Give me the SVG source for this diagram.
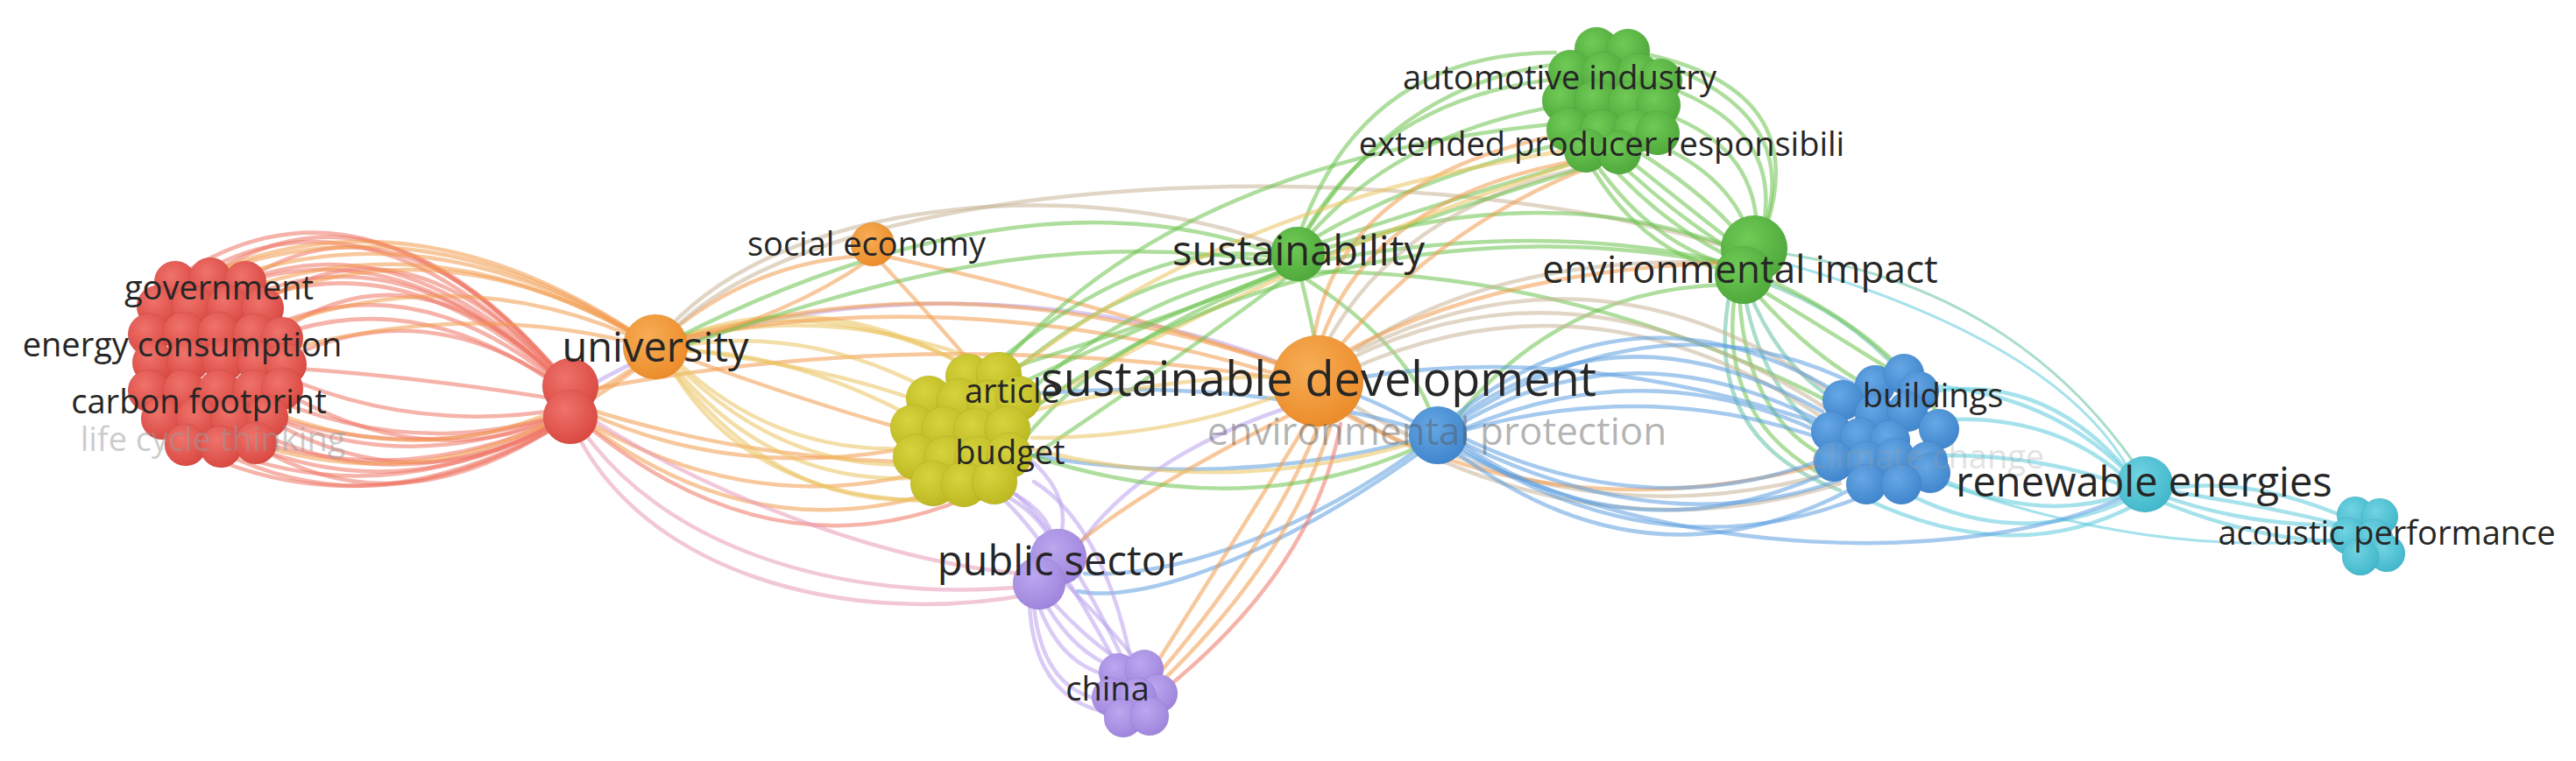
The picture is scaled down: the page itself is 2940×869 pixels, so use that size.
<svg xmlns="http://www.w3.org/2000/svg" width="2940" height="869" viewBox="0 0 2940 869">
<defs>
<radialGradient id="gR" cx="40%" cy="35%" r="70%"><stop offset="0" stop-color="#ef736b"/><stop offset="1" stop-color="#d8463f"/></radialGradient>
<radialGradient id="gO" cx="40%" cy="35%" r="70%"><stop offset="0" stop-color="#f7ad55"/><stop offset="1" stop-color="#eb8a28"/></radialGradient>
<radialGradient id="gY" cx="40%" cy="35%" r="70%"><stop offset="0" stop-color="#d6d33e"/><stop offset="1" stop-color="#bbb720"/></radialGradient>
<radialGradient id="gG" cx="40%" cy="35%" r="70%"><stop offset="0" stop-color="#70ca55"/><stop offset="1" stop-color="#4da73a"/></radialGradient>
<radialGradient id="gB" cx="40%" cy="35%" r="70%"><stop offset="0" stop-color="#66a7e5"/><stop offset="1" stop-color="#3e84cb"/></radialGradient>
<radialGradient id="gP" cx="40%" cy="35%" r="70%"><stop offset="0" stop-color="#bca7ef"/><stop offset="1" stop-color="#9d83dc"/></radialGradient>
<radialGradient id="gC" cx="40%" cy="35%" r="70%"><stop offset="0" stop-color="#70d3e2"/><stop offset="1" stop-color="#3fb6ca"/></radialGradient>
</defs>
<style>
.e path{fill:none;stroke-width:4.5;stroke-linecap:round;stroke-opacity:.55}
.r{stroke:#ee7565}
.o{stroke:#f39a4c}
.y{stroke:#ebc25e}
.g{stroke:#6cc24c}
.b{stroke:#5d9fe0}
.p{stroke:#b9a0ec}
.c{stroke:#5ccbdc}
.t{stroke:#c9b597}
.k{stroke:#e89ab8}
.tq{stroke:#62c0a0}
.n circle{stroke:#000;stroke-opacity:.06;stroke-width:1}
.nr circle{fill:url(#gR)}
.no circle{fill:url(#gO)}
.ny circle{fill:url(#gY)}
.ng circle{fill:url(#gG)}
.nb circle{fill:url(#gB)}
.np circle{fill:url(#gP)}
.nc circle{fill:url(#gC)}
text{font-family:"Open Sans","Noto Sans","Liberation Sans",sans-serif;fill:#262626;text-anchor:middle}
.s38{font-size:38px}
.s44{font-size:44px}
.s47{font-size:47px}
.s54{font-size:54px}
.faint{fill:#9a9a9a;fill-opacity:.5}
.grey{fill:#555;fill-opacity:.45}
</style>
<rect width="2940" height="869" fill="#fff"/>
<g id="connectors" class="e">
<!-- red cluster to red node -->
<path class="r" d="M200 318 Q420 170 650 440"/>
<path class="r" d="M240 314 Q440 185 650 440"/>
<path class="r" d="M280 320 Q460 205 650 442"/>
<path class="r" d="M300 345 Q470 235 650 444"/>
<path class="r" d="M320 378 Q480 270 650 446"/>
<path class="r" d="M325 410 Q490 330 650 448"/>
<path class="r" d="M180 345 Q400 170 650 440"/>
<path class="r" d="M170 378 Q410 210 650 444"/>
<path class="r" d="M215 380 Q430 240 650 446"/>
<path class="r" d="M255 412 Q450 300 650 450"/>
<path class="r" d="M260 350 Q450 250 650 444"/>
<path class="r" d="M220 350 Q430 220 650 442"/>
<path class="r" d="M290 382 Q470 290 650 448"/>
<path class="r" d="M320 445 Q490 545 650 472"/>
<path class="r" d="M305 478 Q480 580 650 474"/>
<path class="r" d="M290 508 Q460 610 650 476"/>
<path class="r" d="M250 515 Q440 610 650 478"/>
<path class="r" d="M210 508 Q420 615 650 478"/>
<path class="r" d="M185 478 Q400 610 650 476"/>
<path class="r" d="M170 445 Q400 590 650 474"/>
<path class="r" d="M175 412 Q410 555 650 470"/>
<path class="r" d="M250 446 Q440 560 650 470"/>
<path class="r" d="M290 414 Q460 500 650 466"/>
<path class="r" d="M326 420 Q480 430 650 458"/>
<path class="r" d="M265 478 Q450 585 650 474"/>
<path class="r" d="M225 478 Q430 600 650 476"/>
<path class="r" d="M290 446 Q470 530 650 470"/>
<!-- red cluster to university -->
<path class="o" d="M220 320 Q480 215 748 396"/>
<path class="o" d="M260 318 Q500 235 748 396"/>
<path class="o" d="M300 340 Q520 255 748 396"/>
<path class="o" d="M320 370 Q540 295 748 396"/>
<path class="o" d="M200 330 Q460 195 748 396"/>
<path class="o" d="M326 400 Q540 340 748 398"/>
<path class="o" d="M280 330 Q510 250 748 396"/>
<path class="o" d="M310 470 Q540 560 748 402"/>
<path class="o" d="M270 500 Q520 590 748 404"/>
<!-- red node rightwards -->
<path class="o" d="M665 478 Q850 590 1050 540"/>
<path class="o" d="M665 480 Q860 630 1075 560"/>
<path class="o" d="M668 470 Q840 550 1045 510"/>
<path class="o" d="M668 466 Q900 540 1140 525"/>
<path class="r" d="M665 482 Q880 660 1100 570"/>
<path class="k" d="M660 484 C750 620 950 690 1170 670"/>
<path class="k" d="M655 488 C730 650 960 720 1180 678"/>
<path class="k" d="M668 474 C800 560 1000 640 1165 655"/>
<path class="o" d="M668 446 Q1050 370 1460 432"/>
<path class="p" d="M668 444 C850 330 1200 310 1470 418"/>
<!-- university to yellow -->
<path class="y" d="M765 390 Q930 320 1105 420"/>
<path class="y" d="M765 392 Q945 340 1140 420"/>
<path class="y" d="M768 396 Q920 370 1060 445"/>
<path class="y" d="M768 400 Q900 400 1045 478"/>
<path class="y" d="M765 405 Q880 520 1040 512"/>
<path class="y" d="M762 410 Q880 560 1058 545"/>
<path class="y" d="M760 412 Q900 600 1090 565"/>
<path class="y" d="M770 398 Q960 420 1080 470"/>
<path class="o" d="M770 404 Q950 470 1070 500"/>
<path class="y" d="M760 410 Q860 590 1120 570"/>
<path class="y" d="M766 388 Q940 330 1120 425"/>
<path class="y" d="M764 408 Q890 540 1050 530"/>
<path class="o" d="M768 390 Q1100 290 1470 420"/>
<path class="o" d="M766 388 Q1100 320 1460 428"/>
<!-- social economy -->
<path class="o" d="M985 292 Q860 300 762 382"/>
<path class="o" d="M1008 292 Q1230 340 1470 418"/>
<path class="o" d="M1004 298 Q1080 380 1130 440"/>
<path class="o" d="M990 298 Q900 360 770 394"/>
<path class="t" d="M760 378 C900 220 1250 200 1462 282"/>
<path class="t" d="M765 380 C950 190 1600 170 1965 280"/>
<path class="g" d="M1462 292 C1250 210 1000 270 768 388"/>
<path class="g" d="M1462 300 C1200 260 1000 320 770 398"/>
<!-- sustainability -->
<path class="g" d="M1465 300 Q1300 300 1150 430"/>
<path class="g" d="M1466 304 Q1280 340 1160 462"/>
<path class="g" d="M1468 296 Q1320 260 1130 420"/>
<path class="g" d="M1470 310 Q1260 390 1170 500"/>
<path class="g" d="M1475 312 Q1330 420 1180 520"/>
<path class="g" d="M1470 306 Q1350 360 1090 440"/>
<path class="g" d="M1495 290 Q1750 200 1975 282"/>
<path class="g" d="M1495 300 Q1760 250 1970 300"/>
<path class="g" d="M1485 318 Q1495 360 1500 385"/>
<path class="g" d="M1490 318 Q1600 390 1632 468"/>
<path class="g" d="M1495 310 Q1800 310 2090 460"/>
<!-- green cluster to sustainability -->
<path class="g" d="M1775 60 Q1560 60 1485 262"/>
<path class="g" d="M1780 90 Q1580 110 1490 265"/>
<path class="g" d="M1785 120 Q1600 150 1495 268"/>
<path class="g" d="M1800 160 Q1620 200 1500 272"/>
<path class="g" d="M1815 180 Q1650 230 1505 278"/>
<path class="g" d="M1790 72 Q1600 90 1492 264"/>
<!-- green cluster to env impact -->
<path class="g" d="M1830 180 Q1900 260 1988 300"/>
<path class="g" d="M1850 175 Q1930 240 1995 290"/>
<path class="g" d="M1880 160 Q1980 200 2000 280"/>
<path class="g" d="M1900 130 Q2010 170 2005 275"/>
<path class="g" d="M1905 100 Q2040 150 2010 270"/>
<path class="g" d="M1890 70 Q2060 130 2012 265"/>
<path class="g" d="M1810 170 Q1880 280 1982 305"/>
<path class="g" d="M1795 150 Q1860 290 1978 310"/>
<path class="g" d="M1870 60 Q2070 100 2015 262"/>
<path class="g" d="M1865 170 Q1960 230 1998 285"/>
<path class="g" d="M1840 178 Q1915 250 1992 295"/>
<!-- green cluster to SD/yellow -->
<path class="o" d="M1504 400 Q1560 220 1820 180"/>
<path class="t" d="M1512 396 Q1600 230 1832 186"/>
<path class="o" d="M1498 398 Q1520 200 1800 150"/>
<path class="y" d="M1150 430 Q1400 230 1800 170"/>
<path class="g" d="M1140 420 Q1350 180 1790 140"/>
<path class="g" d="M1160 440 Q1450 300 1830 185"/>
<path class="y" d="M1170 470 Q1450 300 1815 180"/>
<!-- env impact -->
<path class="tq" d="M1995 330 Q2030 420 2100 460"/>
<path class="g" d="M2000 330 Q2060 400 2130 440"/>
<path class="g" d="M2005 328 Q2090 380 2170 430"/>
<path class="tq" d="M1990 330 Q2010 450 2090 500"/>
<path class="g" d="M1985 332 Q1990 470 2080 520"/>
<path class="tq" d="M2012 322 Q2120 360 2190 450"/>
<path class="g" d="M1980 335 Q1960 480 2085 545"/>
<path class="g" d="M2020 320 Q2150 380 2210 470"/>
<path class="tq" d="M1975 330 Q1940 500 2100 560"/>
<path class="tq" d="M2038 290 Q2300 330 2440 535" style="stroke-width:3"/>
<path class="c" d="M2035 300 Q2350 390 2432 540" style="stroke-width:3"/>
<path class="g" d="M1970 325 Q1780 330 1660 480"/>
<path class="t" d="M1965 300 Q1700 290 1530 410"/>
<path class="g" d="M1960 300 C1700 250 1400 300 1175 470"/>
<!-- SD to blue cluster (tan) -->
<path class="t" d="M1540 410 Q1800 280 2090 470"/>
<path class="t" d="M1545 420 Q1820 300 2085 480"/>
<path class="t" d="M1550 400 Q1830 260 2100 455"/>
<path class="o" d="M1530 405 Q1700 310 1965 300"/>
<path class="o" d="M1525 400 Q1650 250 1830 185"/>
<path class="t" d="M1540 460 Q1800 620 2090 540"/>
<path class="t" d="M1535 470 Q1820 640 2100 552"/>
<path class="o" d="M1530 470 Q1780 610 2080 530"/>
<!-- blue node to blue cluster -->
<path class="b" d="M1660 480 Q1850 340 2080 470"/>
<path class="b" d="M1665 485 Q1860 370 2075 480"/>
<path class="b" d="M1670 490 Q1880 400 2080 495"/>
<path class="b" d="M1660 475 Q1870 310 2100 450"/>
<path class="b" d="M1665 480 Q1900 330 2120 440"/>
<path class="b" d="M1668 492 Q1890 430 2090 505"/>
<path class="b" d="M1665 505 Q1860 640 2085 540"/>
<path class="b" d="M1660 515 Q1880 680 2110 560"/>
<path class="b" d="M1665 510 Q1900 660 2130 565"/>
<path class="b" d="M1670 500 Q1880 600 2080 525"/>
<path class="b" d="M1668 505 Q1900 620 2100 548"/>
<path class="b" d="M2080 485 Q1800 390 1545 432"/>
<path class="b" d="M1641 497 Q1580 462 1540 448"/>
<path class="b" d="M1625 500 Q1400 560 1180 520"/>
<path class="b" d="M1625 508 C1500 600 1350 660 1238 655"/>
<path class="b" d="M1625 492 Q1420 430 1175 450"/>
<path class="b" d="M1630 510 C1450 640 1300 690 1230 675"/>
<!-- blue cluster to renewable / acoustic -->
<path class="c" d="M2190 450 Q2330 420 2430 540"/>
<path class="c" d="M2210 480 Q2340 470 2425 545"/>
<path class="c" d="M2220 520 Q2330 520 2420 553"/>
<path class="c" d="M2200 540 Q2320 600 2425 565"/>
<path class="c" d="M2170 560 Q2300 630 2430 570"/>
<path class="c" d="M2130 570 Q2300 650 2440 575"/>
<path class="c" d="M2200 440 Q2340 450 2428 540"/>
<path class="c" d="M2200 545 Q2450 640 2678 615" style="stroke-width:3"/>
<path class="c" d="M2462 560 Q2560 540 2680 592"/>
<path class="c" d="M2460 570 Q2580 620 2680 618"/>
<path class="c" d="M2470 560 Q2600 580 2690 604"/>
<path class="c" d="M2465 565 Q2560 600 2672 600"/>
<path class="b" d="M1660 512 C1900 640 2250 650 2430 565"/>
<!-- public sector & china -->
<path class="p" d="M1185 690 Q1210 760 1268 772"/>
<path class="p" d="M1195 692 Q1230 750 1280 765"/>
<path class="p" d="M1202 688 Q1250 740 1295 765"/>
<path class="p" d="M1180 692 Q1190 790 1262 800"/>
<path class="p" d="M1215 665 Q1270 720 1306 765"/>
<path class="p" d="M1175 690 Q1180 800 1270 815"/>
<path class="p" d="M1196 610 Q1170 570 1120 555"/>
<path class="p" d="M1200 608 Q1190 580 1150 560"/>
<path class="p" d="M1212 606 Q1220 560 1170 520"/>
<path class="p" d="M1228 628 Q1300 520 1480 462"/>
<path class="p" d="M1275 760 Q1200 620 1140 565"/>
<path class="p" d="M1285 760 Q1220 620 1160 565"/>
<path class="p" d="M1292 760 Q1260 600 1180 550"/>
<path class="o" d="M1312 770 Q1420 600 1492 482"/>
<path class="o" d="M1318 775 Q1450 620 1505 486"/>
<path class="o" d="M1322 782 Q1470 640 1518 488"/>
<path class="r" d="M1326 790 Q1500 650 1530 484"/>
<path class="o" d="M1480 470 Q1300 560 1225 625"/>
<path class="y" d="M1175 470 Q1330 430 1455 430"/>
<path class="y" d="M1178 500 Q1330 500 1458 452"/>
<path class="y" d="M1175 512 Q1400 570 1615 505"/>
<path class="g" d="M1176 520 Q1420 600 1620 510"/>
</g>
<g id="node-red-cluster" class="n nr">
<circle cx="200" cy="322" r="24"/><circle cx="240" cy="318" r="24"/><circle cx="280" cy="322" r="24"/>
<circle cx="180" cy="350" r="24"/><circle cx="220" cy="350" r="24"/><circle cx="260" cy="350" r="24"/><circle cx="300" cy="352" r="24"/>
<circle cx="170" cy="382" r="24"/><circle cx="210" cy="380" r="24"/><circle cx="250" cy="380" r="24"/><circle cx="290" cy="382" r="24"/><circle cx="322" cy="386" r="24"/>
<circle cx="175" cy="414" r="24"/><circle cx="215" cy="412" r="24"/><circle cx="255" cy="412" r="24"/><circle cx="295" cy="414" r="24"/><circle cx="326" cy="416" r="24"/>
<circle cx="170" cy="446" r="24"/><circle cx="210" cy="446" r="24"/><circle cx="250" cy="446" r="24"/><circle cx="290" cy="446" r="24"/><circle cx="322" cy="444" r="24"/>
<circle cx="185" cy="478" r="24"/><circle cx="225" cy="478" r="24"/><circle cx="265" cy="478" r="24"/><circle cx="305" cy="476" r="24"/>
<circle cx="212" cy="508" r="24"/><circle cx="252" cy="510" r="24"/><circle cx="292" cy="506" r="24"/>
</g>
<g id="node-red" class="n nr"><circle cx="651" cy="441" r="32"/><circle cx="651" cy="476" r="31"/></g>
<g id="node-university" class="n no"><circle cx="748" cy="396" r="37"/></g>
<g id="node-social-economy" class="n no"><circle cx="996" cy="279" r="25"/></g>
<g id="node-yellow-cluster" class="n ny">
<circle cx="1105" cy="430" r="26"/><circle cx="1140" cy="428" r="26"/>
<circle cx="1060" cy="455" r="26"/><circle cx="1095" cy="458" r="26"/><circle cx="1130" cy="460" r="26"/><circle cx="1162" cy="455" r="26"/>
<circle cx="1042" cy="488" r="26"/><circle cx="1078" cy="490" r="26"/><circle cx="1114" cy="492" r="26"/><circle cx="1150" cy="490" r="26"/>
<circle cx="1045" cy="522" r="26"/><circle cx="1080" cy="524" r="26"/><circle cx="1115" cy="524" r="26"/><circle cx="1152" cy="520" r="26"/>
<circle cx="1065" cy="552" r="26"/><circle cx="1100" cy="553" r="26"/><circle cx="1135" cy="550" r="26"/>
</g>
<g id="node-sustainability" class="n ng"><circle cx="1481" cy="290" r="31"/></g>
<g id="node-green-cluster" class="n ng">
<circle cx="1822" cy="56" r="25"/><circle cx="1858" cy="58" r="25"/>
<circle cx="1792" cy="82" r="25"/><circle cx="1830" cy="84" r="25"/><circle cx="1870" cy="86" r="25"/><circle cx="1895" cy="92" r="25"/>
<circle cx="1785" cy="115" r="25"/><circle cx="1822" cy="116" r="25"/><circle cx="1860" cy="118" r="25"/><circle cx="1893" cy="120" r="25"/>
<circle cx="1790" cy="148" r="25"/><circle cx="1828" cy="150" r="25"/><circle cx="1866" cy="150" r="25"/><circle cx="1892" cy="152" r="25"/>
<circle cx="1810" cy="172" r="25"/><circle cx="1848" cy="174" r="25"/>
</g>
<g id="node-environmental-impact" class="n ng"><circle cx="2002" cy="284" r="38"/><circle cx="1990" cy="314" r="33"/></g>
<g id="node-sustainable-development" class="n no"><circle cx="1504" cy="435" r="52"/></g>
<g id="node-environmental-protection" class="n nb"><circle cx="1641" cy="497" r="33"/></g>
<g id="node-blue-cluster" class="n nb">
<circle cx="2140" cy="440" r="23"/><circle cx="2173" cy="427" r="23"/><circle cx="2103" cy="457" r="23"/><circle cx="2190" cy="447" r="23"/>
<circle cx="2140" cy="473" r="23"/><circle cx="2177" cy="470" r="23"/><circle cx="2213" cy="490" r="23"/>
<circle cx="2090" cy="493" r="23"/><circle cx="2123" cy="500" r="23"/><circle cx="2157" cy="503" r="23"/>
<circle cx="2093" cy="527" r="23"/><circle cx="2130" cy="527" r="23"/><circle cx="2163" cy="523" r="23"/><circle cx="2200" cy="527" r="23"/><circle cx="2203" cy="540" r="23"/>
<circle cx="2130" cy="553" r="23"/><circle cx="2170" cy="553" r="23"/>
</g>
<g id="node-renewable-energies" class="n nc"><circle cx="2448" cy="553" r="32"/></g>
<g id="node-acoustic-performance" class="n nc">
<circle cx="2688" cy="588" r="21"/><circle cx="2716" cy="590" r="21"/><circle cx="2680" cy="612" r="21"/><circle cx="2710" cy="614" r="21"/><circle cx="2724" cy="632" r="21"/><circle cx="2694" cy="636" r="21"/>
</g>
<g id="node-public-sector" class="n np"><circle cx="1208" cy="636" r="32"/><circle cx="1186" cy="666" r="30"/></g>
<g id="node-china" class="n np">
<circle cx="1276" cy="768" r="22"/><circle cx="1306" cy="764" r="22"/><circle cx="1322" cy="792" r="22"/><circle cx="1268" cy="796" r="22"/><circle cx="1298" cy="796" r="22"/><circle cx="1282" cy="820" r="22"/><circle cx="1312" cy="818" r="22"/>
</g>
<g id="labels">
<text id="label-government" class="s38" x="250" y="342">government</text>
<text id="label-energy-consumption" class="s38" x="208" y="407">energy consumption</text>
<text id="label-carbon-footprint" class="s38" x="227" y="472">carbon footprint</text>
<text id="label-life-cycle-thinking" class="s38 faint" x="243" y="515">life cycle thinking</text>
<text id="label-university" class="s47" x="748" y="413">university</text>
<text id="label-social-economy" class="s38" x="989" y="292">social economy</text>
<text id="label-sustainability" class="s47" x="1482" y="303">sustainability</text>
<text id="label-environmental-impact" class="s44" x="1986" y="323">environmental impact</text>
<text id="label-automotive-industry" class="s38" x="1780" y="102">automotive industry</text>
<text id="label-extended-producer" class="s38" x="1828" y="178">extended producer responsibili</text>
<text id="label-article" class="s38" x="1101" y="460" style="text-anchor:start">article</text>
<text id="label-budget" class="s38" x="1153" y="530">budget</text>
<text id="label-environmental-protection" class="s44 grey" x="1640" y="508">environmental protection</text>
<text id="label-sustainable-development" class="s54" x="1505" y="452">sustainable development</text>
<text id="label-public-sector" class="s47" x="1210" y="657">public sector</text>
<text id="label-china" class="s38" x="1264" y="800">china</text>
<text id="label-climate-change" class="s38 faint" x="2200" y="535" style="fill-opacity:.3">climate change</text>
<text id="label-buildings" class="s38" x="2206" y="465">buildings</text>
<text id="label-renewable-energies" class="s47" x="2447" y="567">renewable energies</text>
<text id="label-acoustic-performance" class="s38" x="2724" y="622">acoustic performance</text>
</g>
</svg>
